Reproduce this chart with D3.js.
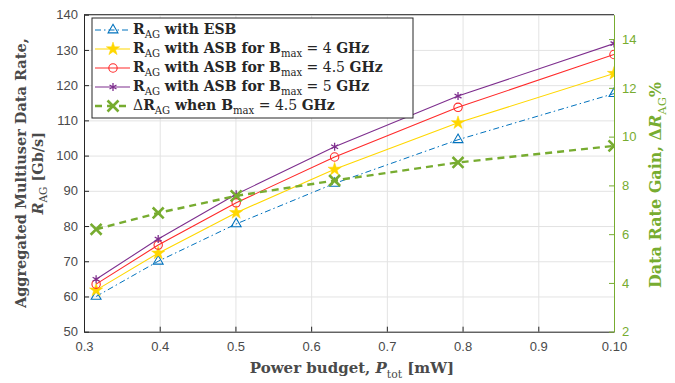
<!DOCTYPE html>
<html>
<head>
  <script src="https://d3js.org/d3.v7.min.js"></script>
  <style>
    body { margin: 0; background: #fff; }
    .tick text { font-family: "Liberation Sans", Arial, sans-serif; font-size: 13px; }
    .serif { font-family: "DejaVu Serif", serif; }
  </style>
</head>
<body>
  <div id="chart"></div>
  <script>
    // Data
    const power = [0.316, 0.398, 0.501, 0.631, 0.794, 1.0];
    const rateESB = [60.0, 70.0, 80.6, 92.1, 104.5, 117.6];
    const rateASB4 = [61.8, 72.3, 83.8, 96.1, 109.3, 123.3];
    const rateASB45 = [63.5, 74.6, 86.6, 99.6, 113.7, 128.7];
    const rateASB5 = [64.9, 76.3, 89.0, 102.5, 116.9, 131.8];
    const gain45 = [6.2, 6.87, 7.57, 8.2, 8.94, 9.62];

    const xTicks = [0.3, 0.4, 0.5, 0.6, 0.7, 0.8, 0.9, 1.0];
    const xTickLabels = ["0.3", "0.4", "0.5", "0.6", "0.7", "0.8", "0.9", "0.10"];
    const yLeftTicks = [50, 60, 70, 80, 90, 100, 110, 120, 130, 140];
    const yRightTicks = [2, 4, 6, 8, 10, 12, 14];

    const W = 675, H = 383;
    const margin = { top: 14.7, right: 61, bottom: 51.3, left: 84 };
    const width = W - margin.left - margin.right;
    const height = H - margin.top - margin.bottom;

    const axisGrey = "#262626";
    const labelGrey = "#4a4a4a";
    const green = "#77AC30";

    const svg = d3.select("#chart").append("svg")
      .attr("width", W).attr("height", H);

    const g = svg.append("g")
      .attr("transform", `translate(${margin.left},${margin.top})`);

    const x = d3.scaleLinear().domain([0.3, 1.0]).range([0, width]);
    const yL = d3.scaleLinear().domain([50, 140]).range([height, 0]);
    const yR = d3.scaleLinear().domain([2, 15]).range([height, 0]);

    // grid
    g.append("g")
      .call(d3.axisBottom(x).tickValues(xTicks).tickSize(height).tickFormat(""))
      .call(s => s.select(".domain").remove())
      .call(s => s.selectAll("line").attr("stroke", "#e3e3e3"));
    g.append("g")
      .call(d3.axisLeft(yL).tickValues(yLeftTicks).tickSize(-width).tickFormat(""))
      .call(s => s.select(".domain").remove())
      .call(s => s.selectAll("line").attr("stroke", "#e3e3e3"));

    // clip
    svg.append("defs").append("clipPath").attr("id", "clip")
      .append("rect").attr("x", -12).attr("y", -2).attr("width", width + 12).attr("height", height + 4);

    const plot = g.append("g").attr("clip-path", "url(#clip)");

    const series = [
      { vals: rateESB, scale: yL, color: "#0072BD", width: 1, dash: "6,3,1.5,3", sym: d3.symbolTriangle, size: 42, fill: "none", sw: 1.1 },
      { vals: rateASB4, scale: yL, color: "#FFD700", width: 1.1, dash: null, sym: d3.symbolStar, size: 55, fill: "#FFD700", sw: 0.5 },
      { vals: rateASB45, scale: yL, color: "#FF2A2A", width: 1.1, dash: null, sym: d3.symbolCircle, size: 55, fill: "none", sw: 1.1 },
      { vals: rateASB5, scale: yL, color: "#7E2F8E", width: 1.1, dash: null, sym: d3.symbolAsterisk, size: 45, fill: "none", sw: 1.3 },
      { vals: gain45, scale: yR, color: green, width: 2.4, dash: "7,5", sym: d3.symbolTimes, size: 80, fill: "none", sw: 2.6 }
    ];

    series.forEach(s => {
      const line = d3.line().x((d, i) => x(power[i])).y(d => s.scale(d));
      plot.append("path")
        .datum(s.vals)
        .attr("d", line)
        .attr("fill", "none")
        .attr("stroke", s.color)
        .attr("stroke-width", s.width)
        .attr("stroke-dasharray", s.dash);
      plot.selectAll(null)
        .data(s.vals)
        .enter().append("path")
        .attr("transform", (d, i) => `translate(${x(power[i])},${s.scale(d)})`)
        .attr("d", d3.symbol().type(s.sym).size(s.size))
        .attr("fill", s.fill)
        .attr("stroke", s.color)
        .attr("stroke-width", s.sw);
    });

    // axes
    const xAxis = g.append("g")
      .attr("transform", `translate(0,${height})`)
      .call(d3.axisBottom(x).tickValues(xTicks).tickFormat((d, i) => xTickLabels[i]).tickSizeInner(-5).tickSizeOuter(0).tickPadding(10));
    const yAxisL = g.append("g")
      .call(d3.axisLeft(yL).tickValues(yLeftTicks).tickSizeInner(-5).tickSizeOuter(0).tickPadding(6));
    [xAxis, yAxisL].forEach(a => {
      a.select(".domain").attr("stroke", axisGrey);
      a.selectAll(".tick line").attr("stroke", axisGrey);
      a.selectAll(".tick text").attr("fill", labelGrey);
    });
    // top border
    g.append("line").attr("x1", 0).attr("x2", width).attr("y1", 0).attr("y2", 0)
      .attr("stroke", axisGrey);

    const yAxisR = g.append("g")
      .attr("transform", `translate(${width},0)`)
      .call(d3.axisRight(yR).tickValues(yRightTicks).tickSizeInner(-5).tickSizeOuter(0).tickPadding(8));
    yAxisR.select(".domain").attr("stroke", green);
    yAxisR.selectAll(".tick line").attr("stroke", green);
    yAxisR.selectAll(".tick text").attr("fill", green);

    // rich text helper: subscripts shift down, next part shifts back up
    function rich(sel, parts, baseSize) {
      let shift = 0;
      parts.forEach(p => {
        const t = sel.append("tspan").text(p.t);
        let dy = -shift;
        shift = 0;
        if (p.sub) {
          t.attr("font-size", baseSize * 0.72).attr("font-weight", "normal");
          dy += baseSize * 0.3;
          shift = baseSize * 0.3;
        }
        if (dy) t.attr("dy", dy);
        if (p.it) t.attr("font-style", "italic");
        if (p.bold === false) t.attr("font-weight", "normal");
      });
    }

    // x label
    const xl = svg.append("text").attr("class", "serif")
      .attr("x", margin.left + width / 2 + 3).attr("y", 373)
      .attr("text-anchor", "middle").attr("font-size", 15).attr("font-weight", "bold")
      .attr("fill", labelGrey);
    rich(xl, [{ t: "Power budget, " }, { t: "P", it: true }, { t: "tot", sub: true }, { t: " [mW]" }], 15);

    // left y label
    const cy = margin.top + height / 2;
    const yl = svg.append("g").attr("transform", `translate(0,${cy}) rotate(-90)`);
    yl.append("text").attr("class", "serif")
      .attr("x", 0).attr("y", 26).attr("text-anchor", "middle")
      .attr("font-size", 14.5).attr("font-weight", "bold").attr("fill", labelGrey)
      .text("Aggregated Multiuser Data Rate,");
    const yl2 = yl.append("text").attr("class", "serif")
      .attr("x", 0).attr("y", 43).attr("text-anchor", "middle")
      .attr("font-size", 14.5).attr("font-weight", "bold").attr("fill", labelGrey);
    rich(yl2, [{ t: "R", it: true }, { t: "AG", sub: true }, { t: " [Gb/s]" }], 14.5);

    // right y label
    const yr = svg.append("g").attr("transform", `translate(0,185) rotate(-90)`);
    const yrt = yr.append("text").attr("class", "serif")
      .attr("x", 0).attr("y", 661).attr("text-anchor", "middle")
      .attr("font-size", 16).attr("font-weight", "bold").attr("fill", green);
    rich(yrt, [{ t: "Data Rate Gain, \u0394" }, { t: "R", it: true }, { t: "AG", sub: true }, { t: "%" }], 16);

    // legend
    const legendRows = [
      [{ t: "R" }, { t: "AG", sub: true }, { t: " with ESB" }],
      [{ t: "R" }, { t: "AG", sub: true }, { t: " with ASB for B" }, { t: "max", sub: true }, { t: " = 4 ", bold: false }, { t: "GHz" }],
      [{ t: "R" }, { t: "AG", sub: true }, { t: " with ASB for B" }, { t: "max", sub: true }, { t: " = 4.5 ", bold: false }, { t: "GHz" }],
      [{ t: "R" }, { t: "AG", sub: true }, { t: " with ASB for B" }, { t: "max", sub: true }, { t: " = 5 ", bold: false }, { t: "GHz" }],
      [{ t: "\u0394", bold: false }, { t: "R" }, { t: "AG", sub: true }, { t: " when B" }, { t: "max", sub: true }, { t: " = 4.5 ", bold: false }, { t: "GHz" }]
    ];
    const lg = svg.append("g").attr("transform", "translate(92,18)");
    lg.append("rect").attr("width", 321).attr("height", 100)
      .attr("fill", "#fff").attr("stroke", axisGrey).attr("stroke-width", 1);
    legendRows.forEach((row, i) => {
      const s = series[i];
      const ry = 12 + i * 19;
      lg.append("line").attr("x1", 3).attr("x2", 38).attr("y1", ry).attr("y2", ry)
        .attr("stroke", s.color).attr("stroke-width", s.width).attr("stroke-dasharray", s.dash);
      lg.append("path").attr("transform", `translate(21,${ry})`)
        .attr("d", d3.symbol().type(s.sym).size(s.size))
        .attr("fill", s.fill).attr("stroke", s.color).attr("stroke-width", s.sw);
      const t = lg.append("text").attr("class", "serif")
        .attr("x", 41).attr("y", ry + 4)
        .attr("font-size", 14).attr("font-weight", "bold").attr("fill", "#262626");
      rich(t, row, 14);
    });
  </script>
</body>
</html>
